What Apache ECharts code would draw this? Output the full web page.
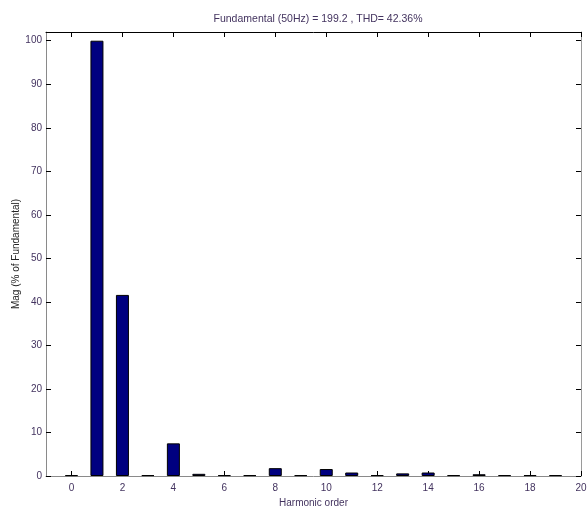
<!DOCTYPE html>
<html>
<head>
<meta charset="utf-8">
<script src="https://cdn.jsdelivr.net/npm/echarts@6/dist/echarts.min.js"></script>
<style>
html,body{margin:0;padding:0;background:#fff;}
#chart{width:587px;height:506px;}
</style>
</head>
<body>
<div id="chart"></div>
<script>
var harmonics = [0,1,2,3,4,5,6,7,8,9,10,11,12,13,14,15,16,17,18,19];
var mags = [0.2,100,41.6,0.2,7.5,0.5,0.2,0.2,1.8,0.2,1.6,0.8,0.2,0.6,0.8,0.2,0.4,0.2,0.2,0.2];
var xTicks = [0,2,4,6,8,10,12,14,16,18,20];
var yTicks = [0,10,20,30,40,50,60,70,80,90,100];
var titleText = 'Fundamental (50Hz) = 199.2 , THD= 42.36%';
var xName = 'Harmonic order';
var yName = 'Mag (% of Fundamental)';

var txtColor = '#43335f';
var font = 'Liberation Sans, Arial, sans-serif';
var chart = echarts.init(document.getElementById('chart'));
var barData = harmonics.map(function(h,i){return [h, mags[i]];});

function xAxisCfg(pos, showLabel, lineColor){
  return {
    type:'value', position:pos, min:-1, max:20, interval:1,
    axisLine:{show:true, onZero:false, lineStyle:{color:lineColor, width:1}},
    axisTick:{show:true, inside:true, length:5, customValues:xTicks, lineStyle:{color:'#000'}},
    axisLabel:{show:showLabel, customValues:xTicks, color:txtColor, fontSize:10, fontFamily:font, margin:7},
    splitLine:{show:false},
    name: showLabel ? xName : '', nameLocation:'middle', nameGap:22,
    nameTextStyle:{color:txtColor, fontSize:10, fontFamily:font}
  };
}
function yAxisCfg(pos, showLabel, lineColor){
  return {
    type:'value', position:pos, min:0, max:102, interval:10,
    axisLine:{show:true, onZero:false, lineStyle:{color:lineColor, width:1}},
    axisTick:{show:true, inside:true, length:5, customValues:yTicks, lineStyle:{color:'#000'}},
    axisLabel:{show:showLabel, customValues:yTicks, color:txtColor, fontSize:10, fontFamily:font, margin:4},
    splitLine:{show:false},
    name: showLabel ? yName : '', nameLocation:'middle', nameGap:25, nameRotate:90,
    nameMoveOverlap:false,
    nameTextStyle:{color:'#222', fontSize:10, fontFamily:font}
  };
}

chart.setOption({
  backgroundColor:'#fff',
  animation:false,
  title:{text:titleText, left:313, top:9, textAlign:'center',
    textStyle:{color:txtColor, fontSize:10.5, fontWeight:'normal', fontFamily:font}},
  grid:{left:46, right:6, top:32, bottom:30, containLabel:false, outerBoundsMode:'none'},
  xAxis:[xAxisCfg('bottom', true, '#8a8a8a'), xAxisCfg('top', false, '#000')],
  yAxis:[yAxisCfg('left', true, '#8a8a8a'), yAxisCfg('right', false, '#9a9a9a')],
  series:[{
    type:'bar', xAxisIndex:0, yAxisIndex:0,
    data:barData, barWidth:13,
    itemStyle:{color:'#000080', borderColor:'#000', borderWidth:1}
  }]
});
</script>
</body>
</html>
